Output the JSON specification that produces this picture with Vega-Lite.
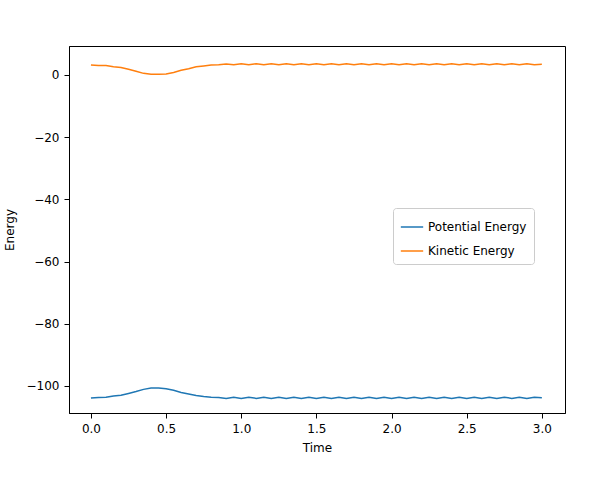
{
  "$schema": "https://vega.github.io/schema/vega-lite/v6.json",
  "width": 496,
  "height": 367,
  "autosize": "none",
  "padding": {"left": 69, "top": 46, "right": 46, "bottom": 64},
  "config": {"font": "DejaVu Sans", "view": {"stroke": "black"}},
  "data": {"values": [
    {"t":0,"k":3.2,"p":-103.9},{"t":0.05,"k":3.0,"p":-103.7},{"t":0.1,"k":3.0,"p":-103.6},{"t":0.15,"k":2.6,"p":-103.2},
    {"t":0.2,"k":2.4,"p":-103.0},{"t":0.25,"k":1.8,"p":-102.4},{"t":0.3,"k":1.2,"p":-101.8},{"t":0.35,"k":0.5,"p":-101.1},
    {"t":0.4,"k":0.2,"p":-100.7},{"t":0.45,"k":0.2,"p":-100.7},{"t":0.5,"k":0.3,"p":-100.9},{"t":0.55,"k":0.8,"p":-101.4},
    {"t":0.6,"k":1.5,"p":-102.1},{"t":0.65,"k":2.0,"p":-102.6},{"t":0.7,"k":2.6,"p":-103.1},{"t":0.75,"k":2.9,"p":-103.4},
    {"t":0.8,"k":3.2,"p":-103.6},{"t":0.85,"k":3.3,"p":-103.7},{"t":0.9,"k":3.5,"p":-104.0},
    {"t":0.95,"k":3.3,"p":-103.6},{"t":1.0,"k":3.6,"p":-104.0},{"t":1.05,"k":3.3,"p":-103.6},{"t":1.1,"k":3.6,"p":-104.0},
    {"t":1.15,"k":3.3,"p":-103.6},{"t":1.2,"k":3.6,"p":-104.0},{"t":1.25,"k":3.3,"p":-103.6},{"t":1.3,"k":3.6,"p":-104.0},
    {"t":1.35,"k":3.3,"p":-103.6},{"t":1.4,"k":3.6,"p":-104.0},{"t":1.45,"k":3.3,"p":-103.6},{"t":1.5,"k":3.6,"p":-104.0},
    {"t":1.55,"k":3.3,"p":-103.6},{"t":1.6,"k":3.6,"p":-104.0},{"t":1.65,"k":3.3,"p":-103.6},{"t":1.7,"k":3.6,"p":-104.0},
    {"t":1.75,"k":3.3,"p":-103.6},{"t":1.8,"k":3.6,"p":-104.0},{"t":1.85,"k":3.3,"p":-103.6},{"t":1.9,"k":3.6,"p":-104.0},
    {"t":1.95,"k":3.3,"p":-103.6},{"t":2.0,"k":3.6,"p":-104.0},{"t":2.05,"k":3.3,"p":-103.6},{"t":2.1,"k":3.6,"p":-104.0},
    {"t":2.15,"k":3.3,"p":-103.6},{"t":2.2,"k":3.6,"p":-104.0},{"t":2.25,"k":3.3,"p":-103.6},{"t":2.3,"k":3.6,"p":-104.0},
    {"t":2.35,"k":3.3,"p":-103.6},{"t":2.4,"k":3.6,"p":-104.0},{"t":2.45,"k":3.3,"p":-103.6},{"t":2.5,"k":3.6,"p":-104.0},
    {"t":2.55,"k":3.3,"p":-103.6},{"t":2.6,"k":3.6,"p":-104.0},{"t":2.65,"k":3.3,"p":-103.6},{"t":2.7,"k":3.6,"p":-104.0},
    {"t":2.75,"k":3.3,"p":-103.6},{"t":2.8,"k":3.6,"p":-104.0},{"t":2.85,"k":3.3,"p":-103.6},{"t":2.9,"k":3.6,"p":-104.0},
    {"t":2.95,"k":3.3,"p":-103.6},{"t":3.0,"k":3.4,"p":-103.8}
  ]},
  "transform": [
    {"fold": ["p", "k"], "as": ["key", "Energy"]},
    {"calculate": "datum.key == 'p' ? 'Potential Energy' : 'Kinetic Energy'", "as": "series"}
  ],
  "mark": {"type": "line", "strokeWidth": 1.5, "clip": true},
  "encoding": {
    "x": {"field": "t", "type": "quantitative", "title": "Time",
      "scale": {"domain": [-0.146, 3.154], "nice": false, "zero": false},
      "axis": {"values": [0, 0.5, 1, 1.5, 2, 2.5, 3], "format": ".1f", "grid": false, "domainColor": "black", "tickColor": "black", "labelColor": "black", "titleColor": "black", "labelFontSize": 12, "titleFontSize": 12, "titleFontWeight": "normal", "labelFlush": false, "labelPadding": 5, "titlePadding": 8}},
    "y": {"field": "Energy", "type": "quantitative", "title": "Energy",
      "scale": {"domain": [-108.7, 9.3], "nice": false, "zero": false},
      "axis": {"values": [-100, -80, -60, -40, -20, 0], "labelExpr": "replace(datum.label, '-', '−')", "grid": false, "domainColor": "black", "tickColor": "black", "labelColor": "black", "titleColor": "black", "labelFontSize": 12, "titleFontSize": 12, "titleFontWeight": "normal", "labelFlush": false, "labelPadding": 5, "titlePadding": 10}},
    "color": {"field": "series", "type": "nominal",
      "scale": {"domain": ["Potential Energy", "Kinetic Energy"], "range": ["#1f77b4", "#ff7f0e"]},
      "legend": {"title": null, "orient": "none", "legendX": 324, "legendY": 162, "symbolType": "stroke", "symbolSize": 500, "symbolStrokeWidth": 1.5, "labelFontSize": 12, "labelColor": "black", "rowPadding": 6, "fillColor": "white", "strokeColor": "#cccccc", "padding": 7, "cornerRadius": 3}}
  }
}
